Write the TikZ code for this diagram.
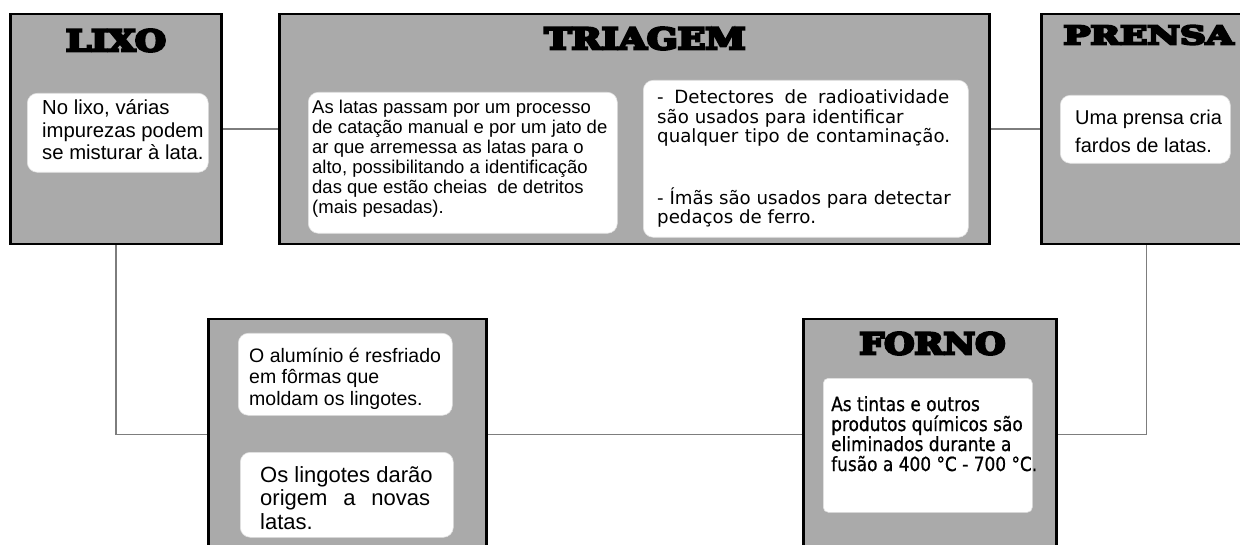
\documentclass[tikz,border=0pt]{standalone}
\usepackage{fontspec}
\usepackage{graphicx}
\setmainfont{Liberation Sans}
\newfontfamily\titlefont{DejaVu Serif}[FakeBold=8,BoldFeatures={FakeBold=8}]
\newfontfamily\verd{DejaVu Sans}
\newfontfamily\verdc{DejaVu Sans}[FakeStretch=0.87,FakeBold=0.8]
\definecolor{boxgray}{RGB}{170,170,170}
\definecolor{linegray}{RGB}{125,125,125}
\pgfdeclarelayer{bg}
\pgfsetlayers{bg,main}
\begin{document}
\begin{tikzpicture}[x=1pt,y=-1pt,
  stage/.style={rectangle, draw=black, line width=2.5pt, fill=boxgray, inner sep=0pt, anchor=north west},
  note/.style={rectangle, fill=white, rounded corners=10pt, inner sep=0pt, anchor=north west, draw=white!88!black, line width=0.6pt},
  ttl/.style={inner sep=0pt},
  txt/.style={inner sep=0pt, anchor=base west, align=left},
  conn/.style={draw=linegray, line width=1.5pt},
]
\useasboundingbox (0,0) rectangle (1240,545);
\begin{scope}
\clip (0,0) rectangle (1240,545);
% stages
\node[stage, minimum width=211pt, minimum height=230pt] (lixo) at (9,13) {};
\node[stage, minimum width=710pt, minimum height=230pt] (triagem) at (278,13) {};
\node[stage, minimum width=210pt, minimum height=230pt] (prensa) at (1040,13) {};
\node[stage, minimum width=278pt, minimum height=230pt] (lingote) at (207,318) {};
\node[stage, minimum width=253pt, minimum height=230pt] (forno) at (802,318) {};
% titles
\node[ttl] (tlixo) at (116,40.5) {\resizebox{100pt}{22pt}{\titlefont\bfseries LIXO}};
\node[ttl] (ttriagem) at (645,38.5) {\resizebox{201pt}{22pt}{\titlefont\bfseries TRIAGEM}};
\node[ttl] (tprensa) at (1148.5,35) {\resizebox{170pt}{19pt}{\titlefont\bfseries PRENSA}};
\node[ttl] (tforno) at (932.5,343.5) {\resizebox{146pt}{22pt}{\titlefont\bfseries FORNO}};
% white notes
\node[note, minimum width=181pt, minimum height=79pt] (nlixo) at (27,93) {};
\node[note, minimum width=309pt, minimum height=141pt] (ntriA) at (308,92) {};
\node[note, minimum width=325pt, minimum height=157pt] (ntriB) at (643,80) {};
\node[note, minimum width=170pt, minimum height=68pt] (nprensa) at (1060,95) {};
\node[note, minimum width=214pt, minimum height=82pt] (nlingA) at (238,333) {};
\node[note, minimum width=213pt, minimum height=85pt] (nlingB) at (240,452) {};
\node[note, rounded corners=5pt, minimum width=209pt, minimum height=134pt] (nforno) at (823,378) {};
% texts (anchor = baseline of the last line)
\node[txt, font=\fontsize{20.3}{22.5}\selectfont] (xlixo) at (42,160)
  {No lixo, várias\\impurezas podem\\se misturar à lata.};
\node[txt, font=\fontsize{18.5}{20}\selectfont] (xtriA) at (312,214)
  {As latas passam por um processo\\de catação manual e por um jato de\\ar que arremessa as latas para o\\alto, possibilitando a identificação\\das que estão cheias \ de detritos\\(mais pesadas).};
\node[txt, font=\verd\fontsize{18.2}{19.5}\selectfont] (xtriB) at (657,224)
  {\makebox[292pt][s]{- Detectores de radioatividade}\\são usados para identificar\\\makebox[293pt][s]{qualquer tipo de contaminação.}\\[40pt]- Ímãs são usados para detectar\\pedaços de ferro.};
\node[txt, font=\fontsize{20}{28.5}\selectfont] (xprensa) at (1075,153)
  {Uma prensa cria\\fardos de latas.};
\node[txt, font=\fontsize{19.5}{21.5}\selectfont] (xlingA) at (249,405)
  {O alumínio é resfriado\\em fôrmas que\\moldam os lingotes.};
\node[txt, font=\fontsize{22}{23.5}\selectfont] (xlingB) at (260,529)
  {Os lingotes darão\\\makebox[170pt][s]{origem a novas}\\latas.};
\node[txt, font=\verdc\fontsize{19.5}{20}\selectfont] (xforno) at (831,471)
  {As tintas e outros\\produtos químicos são\\eliminados durante a\\fusão a 400 °C - 700 °C.};
% connectors
\begin{pgfonlayer}{bg}
\fill[white] (0,0) rectangle (1240,545);
\draw[conn] (lixo.east) -- (triagem.west);
\draw[conn] (triagem.east) -- (prensa.west);
\draw[conn] (lixo.south) |- (lingote.west);
\draw[conn] (prensa.south) |- (forno.east);
\draw[conn] (lingote.east) -- (forno.west);
\end{pgfonlayer}
\end{scope}
\end{tikzpicture}
\end{document}
